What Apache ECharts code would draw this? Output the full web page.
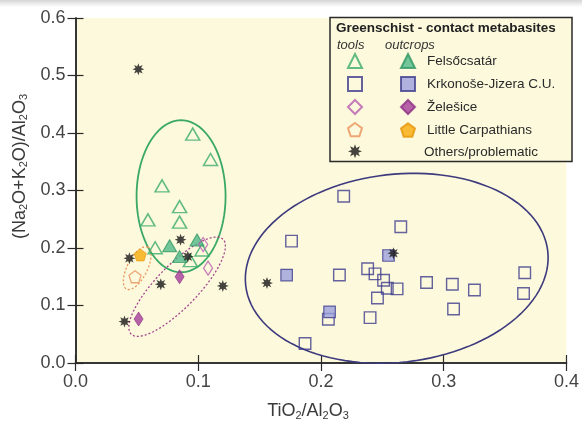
<!DOCTYPE html>
<html>
<head>
<meta charset="utf-8">
<script src="https://cdn.jsdelivr.net/npm/echarts@6/dist/echarts.min.js"></script>
<style>
html, body { margin: 0; padding: 0; background: #fff; }
#chart { width: 582px; height: 429px; }
</style>
</head>
<body>
<div id="chart"></div>
<script>
// ---- data ----
var xTicks = [0, 0.1, 0.2, 0.3, 0.4];
var yTicks = [0, 0.1, 0.2, 0.3, 0.4, 0.5, 0.6];

// Felsőcsatár
var felsoTools = [[0.0955, 0.398], [0.110, 0.354], [0.0705, 0.308], [0.0848, 0.272], [0.059, 0.249],
    [0.0848, 0.245], [0.0649, 0.2005], [0.103, 0.1965], [0.0936, 0.178]];
var felsoOutcrops = [[0.0767, 0.204], [0.099, 0.214], [0.0848, 0.185]];
// Krkonoše-Jizera C.U.
var krkTools = [[0.2185, 0.290], [0.265, 0.237], [0.176, 0.212], [0.215, 0.153], [0.238, 0.164],
    [0.244, 0.155], [0.251, 0.144], [0.254, 0.130], [0.262, 0.129], [0.246, 0.113], [0.240, 0.079],
    [0.286, 0.140], [0.307, 0.137], [0.325, 0.127], [0.308, 0.094], [0.366, 0.157], [0.365, 0.121],
    [0.206, 0.076], [0.187, 0.034]];
var krkOutcrops = [[0.172, 0.153], [0.207, 0.089], [0.255, 0.187]];
// Želešice
var zelTools = [[0.108, 0.165], [0.104, 0.206]];
var zelOutcrops = [[0.0848, 0.150], [0.0514, 0.0765]];
// Little Carpathians
var carpTools = [[0.0485, 0.150]];
var carpOutcrops = [[0.0528, 0.188]];
// Others/problematic
var others = [[0.0512, 0.511], [0.0856, 0.2145], [0.0915, 0.185], [0.0439, 0.182], [0.0695, 0.137],
    [0.120, 0.134], [0.0399, 0.072], [0.156, 0.139], [0.259, 0.191]];

// field ellipses: centres in data units
var ellipseCenters = [[0.086, 0.290], [0.0503, 0.165], [0.0828, 0.1327], [0.2617, 0.1647]];

// ---- styles ----
var FONT = '"Liberation Sans", Arial, sans-serif';
var BG = '#fcf9dc';
var ellipseShapes = [
    { rx: 44.5, ry: 76, angle: 0, color: '#3aa867', width: 1.8, dash: null },
    { rx: 23.5, ry: 10, angle: 63, color: '#e8935a', width: 1.3, dash: [2, 2] },
    { rx: 66, ry: 21, angle: 46, color: '#a4448f', width: 1.3, dash: [2, 2] },
    { rx: 152, ry: 94, angle: 6.5, color: '#3d3a7e', width: 1.6, dash: null }
];

function polygonPath(n, r1, r2) {
    var pts = [];
    var k = r2 ? n * 2 : n;
    for (var i = 0; i < k; i++) {
        var a = -Math.PI / 2 + i * 2 * Math.PI / k;
        var r = (r2 && i % 2) ? r2 : r1;
        pts.push((r * Math.cos(a)).toFixed(3) + ',' + (r * Math.sin(a)).toFixed(3));
    }
    return 'path://M' + pts.join(' L') + ' Z';
}
var PENTAGON = polygonPath(5, 1);
var STAR = polygonPath(8, 1, 0.5);

function renderEllipse(params, api) {
    var s = ellipseShapes[params.dataIndex];
    var c = api.coord([api.value(0), api.value(1)]);
    var rot = s.angle * Math.PI / 180;
    var pts = [];
    for (var i = 0; i < 120; i++) {
        var t = i / 120 * Math.PI * 2;
        var ex = s.rx * Math.cos(t), ey = s.ry * Math.sin(t);
        pts.push([c[0] + ex * Math.cos(rot) - ey * Math.sin(rot),
                  c[1] - (ex * Math.sin(rot) + ey * Math.cos(rot))]);
    }
    return {
        type: 'polygon',
        shape: { points: pts },
        style: { fill: 'none', stroke: s.color, lineWidth: s.width, lineDash: s.dash }
    };
}

function hollow(color, w) {
    return { color: 'rgba(0,0,0,0)', borderColor: color, borderWidth: w || 1.5 };
}

var axisLine = { show: true, lineStyle: { color: '#2a2a2a', width: 1.5 } };
var axisTick = { show: true, inside: true, length: 8, lineStyle: { color: '#2a2a2a', width: 1.2 } };
var labelStyle = { fontFamily: FONT, fontSize: 18, color: '#444', margin: 10,
    formatter: function (v) { return v.toFixed(1); } };
var nameRich = { s: { fontFamily: FONT, fontSize: 11, color: '#3a3a3a', padding: [9, 0, 0, 0] } };

var xRange = { min: xTicks[0], max: xTicks[xTicks.length - 1], interval: xTicks[1] - xTicks[0] };
var yRange = { min: yTicks[0], max: yTicks[yTicks.length - 1], interval: yTicks[1] - yTicks[0] };

var toolsNames = ['Felsőcsatár (tools)', 'Krkonoše-Jizera C.U. (tools)', 'Želešice (tools)',
    'Little Carpathians (tools)', 'Others/problematic'];
var outcropNames = ['Felsőcsatár', 'Krkonoše-Jizera C.U.', 'Želešice', 'Little Carpathians'];

var option = {
    animation: false,
    backgroundColor: '#fff',
    grid: { left: 75.5, right: 10, top: 18, bottom: 66, show: true, backgroundColor: BG, borderWidth: 0 },
    xAxis: [{
        type: 'value', position: 'bottom', min: xRange.min, max: xRange.max, interval: xRange.interval,
        name: 'TiO{s|2}/Al{s|2}O{s|3}', nameLocation: 'middle', nameGap: 38,
        nameTextStyle: { fontFamily: FONT, fontSize: 18, color: '#3a3a3a', padding: [0, 26, 0, 0], rich: nameRich },
        axisLine: axisLine, axisTick: axisTick, axisLabel: labelStyle, splitLine: { show: false }
    }, {
        type: 'value', position: 'top', min: xRange.min, max: xRange.max, interval: xRange.interval,
        axisLine: axisLine, axisTick: axisTick, axisLabel: { show: false }, splitLine: { show: false }
    }],
    yAxis: [{
        type: 'value', position: 'left', min: yRange.min, max: yRange.max, interval: yRange.interval,
        name: '(Na{s|2}O+K{s|2}O)/Al{s|2}O{s|3}', nameLocation: 'middle', nameGap: 36,
        nameTextStyle: { fontFamily: FONT, fontSize: 18, color: '#3a3a3a', padding: [0, 0, 0, 48], rich: nameRich },
        axisLine: axisLine, axisTick: axisTick, axisLabel: labelStyle, splitLine: { show: false }
    }, {
        type: 'value', position: 'right', min: yRange.min, max: yRange.max, interval: yRange.interval,
        axisLine: axisLine, axisTick: axisTick, axisLabel: { show: false }, splitLine: { show: false }
    }],
    legend: [{
        data: toolsNames, orient: 'vertical', left: 347, top: 53, padding: 0,
        itemWidth: 14, itemHeight: 14, itemGap: 7, selectedMode: false,
        formatter: function () { return ''; },
        textStyle: { fontFamily: FONT, fontSize: 13.5, lineHeight: 16 }
    }, {
        data: outcropNames, orient: 'vertical', left: 400, top: 53, padding: 0,
        itemWidth: 14, itemHeight: 14, itemGap: 7, selectedMode: false,
        textStyle: { fontFamily: FONT, fontSize: 13.5, lineHeight: 16, color: '#2a2a2a', padding: [0, 0, 0, 7] }
    }],
    graphic: [
        { type: 'rect', z: 1, shape: { x: 0, y: 0, width: 582, height: 7 },
          style: { fill: new echarts.graphic.LinearGradient(0, 0, 0, 1,
              [{ offset: 0, color: '#d6d6d6' }, { offset: 1, color: '#ffffff' }]) } },
        { type: 'rect', z: 3, shape: { x: 330, y: 17.5, width: 242, height: 144 },
          style: { fill: BG, stroke: '#2a2a2a', lineWidth: 1.5 } },
        { type: 'text', z: 5, x: 336, y: 28,
          style: { text: 'Greenschist - contact metabasites', font: 'bold 13.5px ' + FONT, fill: '#222',
                   textVerticalAlign: 'middle', verticalAlign: 'middle' } },
        { type: 'text', z: 5, x: 337, y: 45,
          style: { text: 'tools', font: 'italic 13px ' + FONT, fill: '#333',
                   textVerticalAlign: 'middle', verticalAlign: 'middle' } },
        { type: 'text', z: 5, x: 385, y: 45,
          style: { text: 'outcrops', font: 'italic 13px ' + FONT, fill: '#333',
                   textVerticalAlign: 'middle', verticalAlign: 'middle' } },
        { type: 'text', z: 5, x: 424, y: 152,
          style: { text: 'Others/problematic', font: '13.5px ' + FONT, fill: '#2a2a2a',
                   textVerticalAlign: 'middle', verticalAlign: 'middle' } }
    ],
    series: [
        { type: 'custom', name: 'fields', renderItem: renderEllipse, data: ellipseCenters,
          encode: { x: 0, y: 1 }, clip: false, silent: true, z: 1 },
        { type: 'scatter', name: toolsNames[1], data: krkTools, symbol: 'rect', symbolSize: 11.5,
          itemStyle: hollow('#3d3b8c', 1.4) },
        { type: 'scatter', name: outcropNames[1], data: krkOutcrops, symbol: 'rect', symbolSize: 11.5,
          itemStyle: { color: '#9aa0dc', borderColor: '#3d3b8c', borderWidth: 1.2 } },
        { type: 'scatter', name: toolsNames[0], data: felsoTools, symbol: 'triangle', symbolSize: [14, 12],
          itemStyle: hollow('#3aab6c', 1.5) },
        { type: 'scatter', name: outcropNames[0], data: felsoOutcrops, symbol: 'triangle', symbolSize: [14, 12],
          itemStyle: { color: '#4fb98a', borderColor: '#2f9562', borderWidth: 1 } },
        { type: 'scatter', name: toolsNames[2], data: zelTools, symbol: 'diamond', symbolSize: [9, 14],
          itemStyle: hollow('#b65db0', 1.3) },
        { type: 'scatter', name: outcropNames[2], data: zelOutcrops, symbol: 'diamond', symbolSize: [9, 14],
          itemStyle: { color: '#a23d99', borderColor: '#8e2f86', borderWidth: 0.8 } },
        { type: 'scatter', name: toolsNames[3], data: carpTools, symbol: PENTAGON, symbolSize: [12, 12],
          itemStyle: hollow('#e8935c', 1.3) },
        { type: 'scatter', name: outcropNames[3], data: carpOutcrops, symbol: PENTAGON, symbolSize: [12, 12],
          itemStyle: { color: '#f7ab0b', borderColor: '#e6960a', borderWidth: 0.8 } },
        { type: 'scatter', name: toolsNames[4], data: others, symbol: STAR, symbolSize: 12,
          itemStyle: { color: '#151515' } }
    ]
};

var chart = echarts.init(document.getElementById('chart'));
chart.setOption(option);
</script>
</body>
</html>
